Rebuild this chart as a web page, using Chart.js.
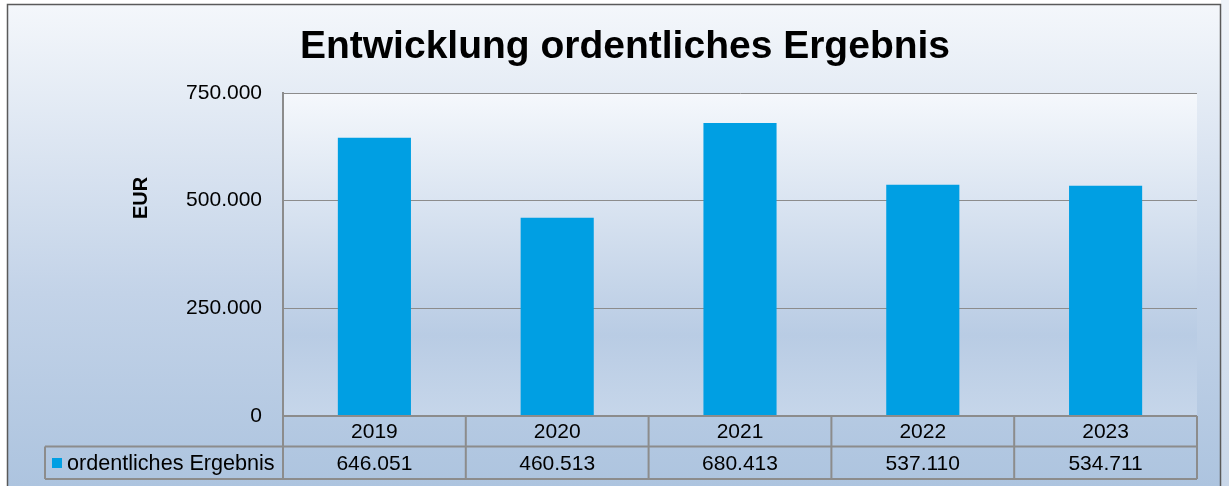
<!DOCTYPE html>
<html>
<head>
<meta charset="utf-8">
<script src="https://cdn.jsdelivr.net/npm/chart.js@4"></script>
<style>
html,body{margin:0;padding:0;background:#fff;}
#wrap{width:1229px;height:486px;}
</style>
</head>
<body>
<div id="wrap"><canvas id="c" width="1229" height="486"></canvas></div>
<script>
const categories = ['2019', '2020', '2021', '2022', '2023'];
const seriesName = 'ordentliches Ergebnis';
const values = [646051, 460513, 680413, 537110, 534711];
const yTicks = [0, 250000, 500000, 750000];
const chartTitle = 'Entwicklung ordentliches Ergebnis';
const yTitle = 'EUR';

const FONT = "'Liberation Sans', Arial, sans-serif";
const BAR = '#009fe3';
const LINE = '#8c8c8c';

function fmt(v) {
  return String(Math.round(v)).replace(/\B(?=(\d{3})+(?!\d))/g, '.');
}

const bgPlugin = {
  id: 'bg',
  beforeDraw(chart) {
    const ctx = chart.ctx;
    const W = chart.width, H = chart.height;
    ctx.save();
    ctx.fillStyle = '#ffffff';
    ctx.fillRect(0, 0, W, H);
    let g = ctx.createLinearGradient(0, 4, 0, H);
    g.addColorStop(0, '#eef3f9');
    g.addColorStop(1, '#c9d7e9');
    ctx.fillStyle = g;
    ctx.fillRect(1221, 0, W - 1221, H);
    g = ctx.createLinearGradient(0, 4, 0, H);
    g.addColorStop(0, '#f4f7fb');
    g.addColorStop(0.6, '#c3d3e8');
    g.addColorStop(1, '#adc4df');
    ctx.fillStyle = g;
    ctx.fillRect(7, 4, 1214, H);
    ctx.strokeStyle = '#5a5a5a';
    ctx.lineWidth = 1.5;
    ctx.strokeRect(7.5, 4.5, 1213, H + 5);
    const a = chart.chartArea;
    g = ctx.createLinearGradient(0, a.top, 0, a.bottom);
    g.addColorStop(0, '#f5f8fc');
    g.addColorStop(0.75, '#b9cce4');
    g.addColorStop(1, '#c6d6ea');
    ctx.fillStyle = g;
    ctx.fillRect(a.left, a.top, a.right - a.left, a.bottom - a.top);
    // chart title
    ctx.fillStyle = '#000';
    ctx.font = 'bold 39px ' + FONT;
    ctx.textAlign = 'center';
    ctx.textBaseline = 'middle';
    ctx.fillText(chartTitle, 625, 47);
    // y axis title
    ctx.translate(141, 198);
    ctx.rotate(-Math.PI / 2);
    ctx.font = 'bold 20px ' + FONT;
    ctx.fillText(yTitle, 0, 0);
    ctx.restore();
  }
};

const tablePlugin = {
  id: 'dataTable',
  afterDraw(chart) {
    const ctx = chart.ctx;
    const a = chart.chartArea;
    const xs = chart.scales.x;
    const n = categories.length;
    const cw = (a.right - a.left) / n;
    const r1t = a.bottom, r1b = a.bottom + 30.5, r2b = a.bottom + 63;
    const legL = 45;
    ctx.save();
    ctx.strokeStyle = LINE;
    ctx.lineWidth = 2;
    ctx.beginPath();
    ctx.moveTo(a.left, r1t); ctx.lineTo(a.right, r1t);
    ctx.moveTo(legL, r1b); ctx.lineTo(a.right, r1b);
    ctx.moveTo(legL, r2b); ctx.lineTo(a.right, r2b);
    ctx.moveTo(legL, r1b); ctx.lineTo(legL, r2b);
    for (let i = 0; i <= n; i++) {
      const x = a.left + i * cw;
      ctx.moveTo(x, r1t); ctx.lineTo(x, r2b);
    }
    ctx.stroke();
    ctx.fillStyle = '#000';
    ctx.font = '21px ' + FONT;
    ctx.textAlign = 'center';
    ctx.textBaseline = 'middle';
    for (let i = 0; i < n; i++) {
      const cx = xs.getPixelForValue(i);
      ctx.fillText(categories[i], cx, (r1t + r1b) / 2 + 1);
      ctx.fillText(fmt(values[i]), cx, (r1b + r2b) / 2 + 1);
    }
    ctx.fillStyle = BAR;
    ctx.fillRect(52, 458, 10, 10);
    ctx.fillStyle = '#000';
    ctx.textAlign = 'left';
    ctx.font = '21.6px ' + FONT;
    ctx.fillText(seriesName, 67, (r1b + r2b) / 2 + 1);
    ctx.restore();
  }
};

new Chart(document.getElementById('c'), {
  type: 'bar',
  data: {
    labels: categories,
    datasets: [{
      label: seriesName,
      data: values,
      backgroundColor: BAR,
      borderWidth: 0,
      categoryPercentage: 1.0,
      barPercentage: 0.4
    }]
  },
  options: {
    responsive: false,
    animation: false,
    devicePixelRatio: 1,
    layout: { padding: { left: 128, right: 32, top: 93, bottom: 70 } },
    plugins: {
      legend: { display: false },
      tooltip: { enabled: false },
      title: { display: false }
    },
    scales: {
      x: { display: false },
      y: {
        min: 0,
        max: 750000,
        afterBuildTicks(s) { s.ticks = yTicks.map(v => ({ value: v })); },
        afterFit(s) { s.width = 155; },
        ticks: {
          color: '#000',
          font: { family: FONT, size: 21 },
          padding: 21,
          callback: v => fmt(v)
        },
        grid: { color: LINE, lineWidth: 1, drawTicks: false },
        border: { display: true, color: LINE, width: 2 },
        title: { display: false }
      }
    }
  },
  plugins: [bgPlugin, tablePlugin]
});
</script>
</body>
</html>
